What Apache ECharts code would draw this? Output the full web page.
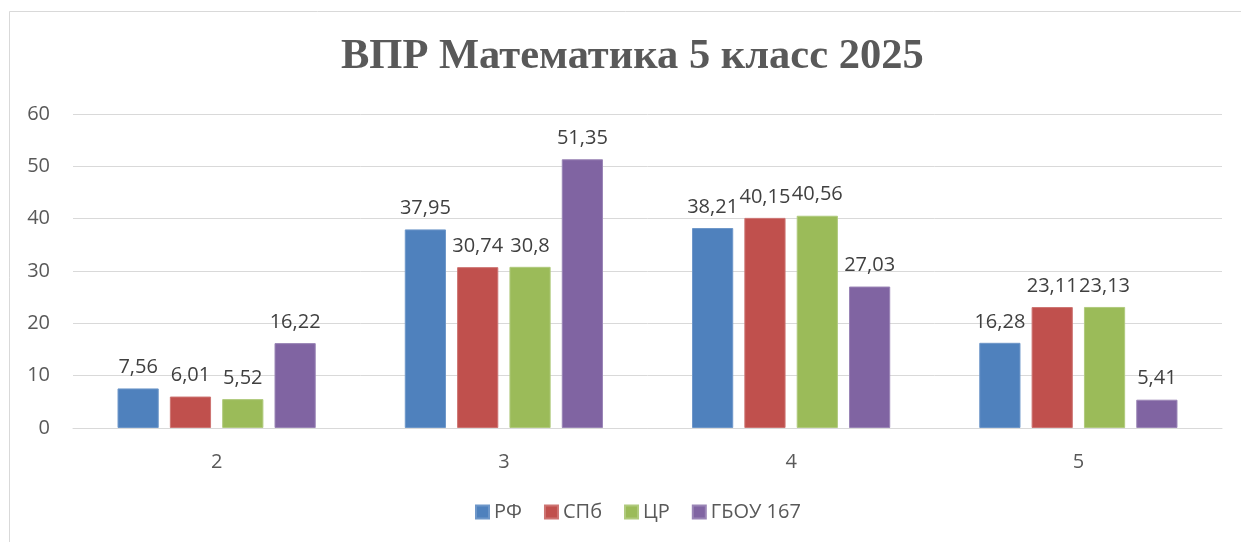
<!DOCTYPE html>
<html><head><meta charset="utf-8">
<script src="https://cdn.jsdelivr.net/npm/echarts@6/dist/echarts.min.js"></script>
<style>html,body{margin:0;padding:0;background:#fff}#c{width:1241px;height:542px}</style>
</head><body><div id="c"></div>
<script>
const categories = ['2', '3', '4', '5'];
const seriesNames = ['РФ', 'СПб', 'ЦР', 'ГБОУ 167'];
const rf = [7.56, 37.95, 38.21, 16.28];
const spb = [6.01, 30.74, 40.15, 23.11];
const cr = [5.52, 30.8, 40.56, 23.13];
const gbou = [16.22, 51.35, 27.03, 5.41];
const colors = ['#4F81BD', '#C0504D', '#9BBB59', '#8064A2'];
const borders = ['#6E97C9', '#CD7472', '#B0CA7D', '#9A85B6'];
const font = '"Open Sans", "Noto Sans", sans-serif';
const values = [rf, spb, cr, gbou];

const chart = echarts.init(document.getElementById('c'), null, {renderer: 'canvas'});
chart.setOption({
  animation: false,
  backgroundColor: '#fff',
  graphic: [{type: 'rect', shape: {x: 9.5, y: 11.5, width: 1240, height: 540}, style: {fill: 'none', stroke: '#D9D9D9', lineWidth: 1}, silent: true}],
  title: {
    text: 'ВПР Математика 5 класс 2025', left: 336, top: 31,
    textStyle: {fontFamily: '"Liberation Serif", "Times New Roman", serif', fontWeight: 'bold', fontSize: 42.5, color: '#595959'}
  },
  legend: {
    bottom: 15, left: 470, itemWidth: 13, itemHeight: 13, itemGap: 22, icon: 'rect',
    textStyle: {fontFamily: font, fontSize: 20, color: '#595959'},
    data: seriesNames
  },
  grid: {left: 73, right: 19, top: 114, bottom: 114},
  xAxis: {
    type: 'category', data: categories,
    axisLine: {lineStyle: {color: '#D9D9D9', width: 1}}, axisTick: {show: false},
    axisLabel: {fontFamily: font, fontSize: 20, color: '#595959', margin: 24}
  },
  yAxis: {
    type: 'value', min: 0, max: 60, interval: 10,
    axisLine: {show: false}, axisTick: {show: false},
    splitLine: {lineStyle: {color: '#D9D9D9', width: 1}},
    axisLabel: {fontFamily: font, fontSize: 20, color: '#595959', margin: 23}
  },
  series: seriesNames.map((n, i) => ({
    name: n, type: 'bar', data: values[i],
    barGap: '27%', barCategoryGap: '31%',
    itemStyle: {color: colors[i], borderColor: borders[i], borderWidth: 1},
    label: {show: true, position: 'top', distance: 11, fontFamily: font, fontSize: 20, color: '#404040',
      formatter: p => String(p.value).replace('.', ',')}
  }))
});
</script></body></html>
